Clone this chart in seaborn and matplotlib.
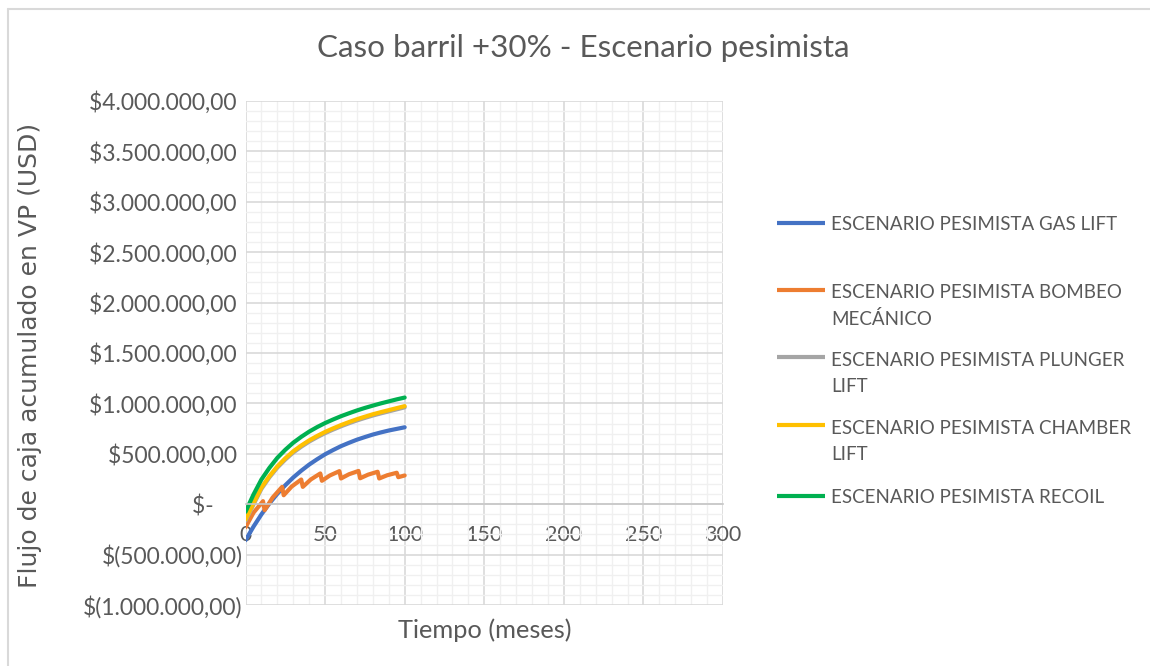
import matplotlib
matplotlib.use("Agg")
import matplotlib.pyplot as plt
import seaborn as sns
import pandas as pd
from matplotlib.ticker import MultipleLocator, FixedLocator, FixedFormatter
from matplotlib.lines import Line2D

# ---------------- data (values in thousands of USD) ----------------
months = [0, 5, 10, 15, 20, 25, 30, 35, 40, 45, 50, 55, 60, 65, 70, 75, 80, 85, 90, 95, 100]

gas_lift = [-358, -223, -101, 7, 103, 188, 265, 332, 393, 446, 495,
            537, 576, 609, 640, 666, 691, 712, 731, 747, 763]
plunger_lift = [-165, -3, 152, 266, 363, 443, 513, 570, 621, 665, 705,
                740, 773, 803, 831, 856, 880, 901, 921, 941, 961]
chamber_lift = [-152, 10, 165, 278, 375, 455, 525, 582, 633, 677, 717,
                752, 785, 815, 843, 868, 892, 913, 933, 953, 973]
recoil = [-76, 95, 245, 360, 460, 540, 610, 668, 720, 765, 805,
          840, 873, 902, 930, 955, 978, 1000, 1020, 1040, 1058]

bombeo_months = [0, 5, 11, 12, 17, 23, 24, 29, 35, 36, 41, 47, 48, 53, 59,
                 60, 65, 71, 72, 77, 83, 84, 89, 95, 96, 100]
bombeo = [-230, -85, 30, -60, 65, 172, 89, 175, 245, 172, 245, 305, 232, 285, 328,
          255, 297, 330, 257, 293, 322, 255, 287, 312, 268, 285]

series_names = [
    "ESCENARIO PESIMISTA GAS LIFT",
    "ESCENARIO PESIMISTA BOMBEO\nMECÁNICO",
    "ESCENARIO PESIMISTA PLUNGER\nLIFT",
    "ESCENARIO PESIMISTA CHAMBER\nLIFT",
    "ESCENARIO PESIMISTA RECOIL",
]
series_colors = ["#4472C4", "#ED7D31", "#A5A5A5", "#FFC000", "#00B050"]

x_ticks = [0, 50, 100, 150, 200, 250, 300]
y_ticks = [-1000000, -500000, 0, 500000, 1000000, 1500000, 2000000,
           2500000, 3000000, 3500000, 4000000]
y_tick_labels = ["$(1.000.000,00)", "$(500.000,00)", "$-     ", "$500.000,00 ",
                 "$1.000.000,00 ", "$1.500.000,00 ", "$2.000.000,00 ", "$2.500.000,00 ",
                 "$3.000.000,00 ", "$3.500.000,00 ", "$4.000.000,00 "]

title = "Caso barril +30% - Escenario pesimista"
x_label = "Tiempo (meses)"
y_label = "Flujo de caja acumulado en VP (USD)"

# ---------------- build long frame ----------------
frames = []
for name, xs, vs in [
    (series_names[0], months, gas_lift),
    (series_names[1], bombeo_months, bombeo),
    (series_names[2], months, plunger_lift),
    (series_names[3], months, chamber_lift),
    (series_names[4], months, recoil),
]:
    frames.append(pd.DataFrame({"t": xs, "v": [v * 1000 for v in vs], "serie": name}))
df = pd.concat(frames, ignore_index=True)

# ---------------- figure ----------------
sns.set_theme(style="white")
plt.rcParams['font.family'] = ['Lato', 'DejaVu Sans']
TXT = "#595959"

W, H = 1150, 666
fig = plt.figure(figsize=(W / 100, H / 100), dpi=100)
L, R, T, B = 245.5, 723, 101, 605
ax = fig.add_axes([L / W, 1 - B / H, (R - L) / W, (B - T) / H])

sns.lineplot(data=df, x="t", y="v", hue="serie", hue_order=series_names,
             palette=dict(zip(series_names, series_colors)), estimator=None,
             sort=False, linewidth=3, legend=False, ax=ax)

ax.set_xlim(0, 300)
ax.set_ylim(-1000000, 4000000)
ax.xaxis.set_major_locator(FixedLocator(x_ticks))
ax.xaxis.set_minor_locator(MultipleLocator(10))
ax.yaxis.set_major_locator(FixedLocator(y_ticks))
ax.yaxis.set_major_formatter(FixedFormatter(y_tick_labels))
ax.yaxis.set_minor_locator(MultipleLocator(100000))

ax.set_axisbelow(True)
ax.grid(which="major", color="#d9d9d9", linewidth=1.2)
ax.grid(which="minor", color="#f0f0f0", linewidth=1.0)

for s in ["left", "right", "top"]:
    ax.spines[s].set_visible(False)
ax.spines["bottom"].set_position(("data", 0))
ax.spines["bottom"].set_color("#c8c8c8")
ax.spines["bottom"].set_linewidth(1.2)

ax.tick_params(axis="both", which="both", length=0, colors=TXT)
ax.tick_params(axis="x", labelsize=15.5, pad=15)
ax.tick_params(axis="y", labelsize=16.5, pad=2)

ax.set_xlabel(x_label, fontsize=18.3, color=TXT)
ax.xaxis.set_label_coords(0.5, (B - 630) / (B - T))
ax.xaxis.label.set_verticalalignment("center")
ax.set_ylabel(y_label, fontsize=18, color=TXT, fontfamily="DejaVu Sans")
ax.yaxis.set_label_coords((30 - L) / (R - L), (B - 355) / (B - T))
ax.yaxis.label.set_verticalalignment("center")

fig.text(583 / W, 1 - 48 / H, title, fontsize=22.6, color=TXT, ha="center", va="center")

# ---------------- legend (Excel-like, handle beside first line) ----------------
legend_rows = [223, 290, 357, 425, 496]
line_pitch = 28
for name, col, yy in zip(series_names, series_colors, legend_rows):
    fig.add_artist(Line2D([777 / W, 825 / W], [1 - yy / H, 1 - yy / H],
                          color=col, linewidth=3, solid_capstyle="butt"))
    nlines = name.count("\n") + 1
    base = yy + 7 + line_pitch * (nlines - 1)
    fig.text(831 / W, 1 - base / H, name, fontsize=13.5, color=TXT,
             ha="left", va="baseline", linespacing=1.62)

# outer chart border
fig.add_artist(Line2D([8 / W, 8 / W], [1 - 9 / H, 0], color="#d9d9d9", linewidth=1.5))
fig.add_artist(Line2D([8 / W, 1], [1 - 9 / H, 1 - 9 / H], color="#d9d9d9", linewidth=1.5))

fig.savefig("out.png", dpi=100)
